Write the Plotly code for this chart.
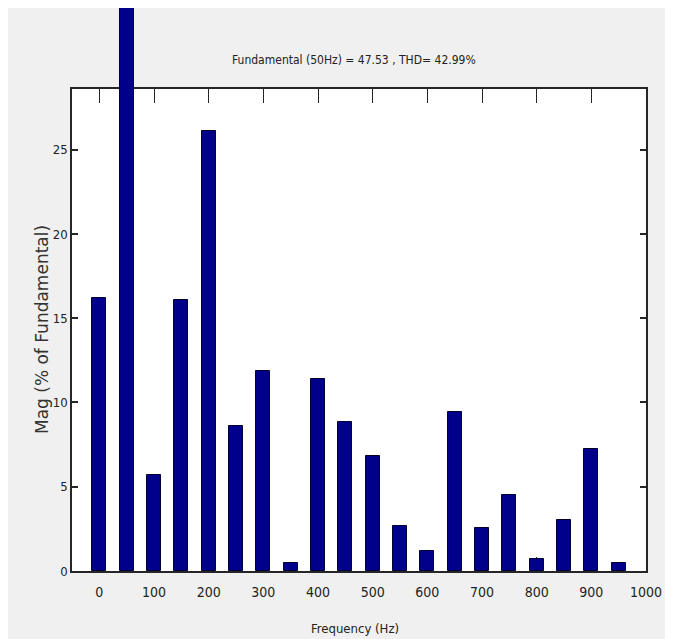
import plotly.graph_objects as go

freqs = [0, 50, 100, 150, 200, 250, 300, 350, 400, 450,
         500, 550, 600, 650, 700, 750, 800, 850, 900, 950]
mags = [16.2, 100.0, 5.7, 16.1, 26.1, 8.6, 11.85, 0.5, 11.38, 8.85,
        6.8, 2.67, 1.18, 9.45, 2.57, 4.5, 0.71, 3.03, 7.26, 0.49]
x_ticks = [0, 100, 200, 300, 400, 500, 600, 700, 800, 900, 1000]
y_ticks = [0, 5, 10, 15, 20, 25]

title_text = "Fundamental (50Hz) = 47.53 , THD= 42.99%"
x_title = "Frequency (Hz)"
y_title = "Mag (% of Fundamental)"

BAR = "#00008B"
AX = "#262626"
NARROW = "Liberation Sans Narrow, Arial Narrow, DejaVu Sans Condensed, sans-serif"
TXT = "#222222"

# page has an 8px body margin; sizes chosen so the figure fills the window
W, H = 661, 631
ml, mr, mt, mb = 64, 23, 0, 68
plot_h = H - mt - mb
top_px = 81
split = (plot_h - top_px) / plot_h
y_top = 28.6
px_per_unit = (plot_h - top_px) / y_top
y2_top = y_top + top_px / px_per_unit

fig = go.Figure()

bar_kw = dict(x=freqs, y=mags, width=26,
              marker=dict(color=BAR, line=dict(color="#000033", width=1)),
              hoverinfo="x+y", showlegend=False)
fig.add_trace(go.Bar(xaxis="x", yaxis="y", **bar_kw))
# overflow of the tall bar above the axes box (same data, upper band)
fig.add_trace(go.Bar(xaxis="x2", yaxis="y2", **bar_kw))

fig.update_layout(
    width=W, height=H,
    margin=dict(l=ml, r=mr, t=mt, b=mb),
    paper_bgcolor="#f0f0f0",
    plot_bgcolor="rgba(0,0,0,0)",
    bargap=0,
    font=dict(family=NARROW, size=14, color=TXT),
    xaxis=dict(
        domain=[0, 1], range=[-50, 1000], tickvals=x_ticks,
        ticks="inside", ticklen=14, tickcolor=AX, tickwidth=1,
        showline=True, linecolor=AX, linewidth=1.5, mirror="ticks",
        showgrid=False, zeroline=False, layer="below traces",
        ticklabelstandoff=7,
        tickfont=dict(family=NARROW, size=14, color=TXT),
    ),
    yaxis=dict(
        domain=[0, split], range=[0, y_top], tickvals=y_ticks,
        ticks="inside", ticklen=6, tickcolor=AX, tickwidth=1.5,
        showline=True, linecolor=AX, linewidth=1.5, mirror="ticks",
        showgrid=False, zeroline=False, layer="below traces",
        tickfont=dict(family=NARROW, size=13, color=TXT),
    ),
    xaxis2=dict(anchor="y2", range=[-50, 1000], visible=False),
    yaxis2=dict(anchor="x2", domain=[split, 1], range=[y_top, y2_top], visible=False),
    shapes=[dict(type="rect", xref="x domain", yref="y domain", x0=0, x1=1, y0=0, y1=1,
                 fillcolor="white", line=dict(width=0), layer="below")],
    annotations=[
        dict(text=title_text, xref="paper", yref="paper", x=0.5, y=1, xshift=-5,
             yshift=-52, yanchor="middle", showarrow=False,
             font=dict(family=NARROW, size=12, color=TXT)),
        dict(text=x_title, xref="paper", yref="paper", x=0.5, y=0, xshift=-4, yshift=-57,
             yanchor="middle", showarrow=False,
             font=dict(family=NARROW, size=13, color=TXT)),
        dict(text=y_title, xref="paper", yref="paper", x=0, y=split / 2, xshift=-30,
             xanchor="center", yanchor="middle", textangle=-90, showarrow=False,
             font=dict(family="DejaVu Sans, sans-serif", size=17, color="#333333")),
    ],
)

fig.write_html("out.html")
